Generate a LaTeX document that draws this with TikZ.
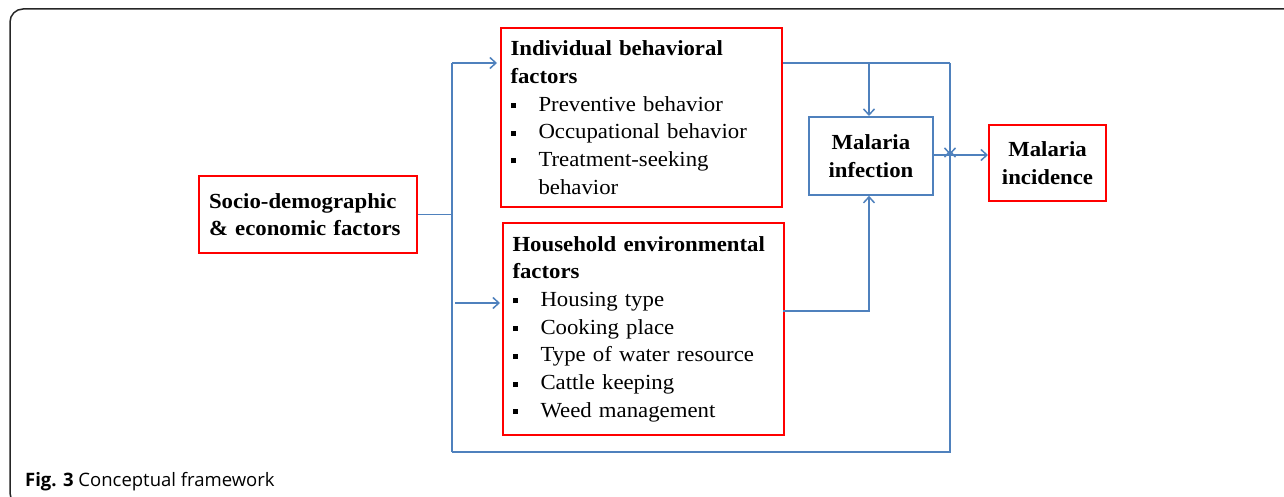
\documentclass[tikz,border=0pt]{standalone}
\usepackage{fontspec}
\setmainfont{Liberation Serif}[FakeStretch=1.06]
\newfontfamily\capfont{Open Sans}
\usetikzlibrary{arrows.meta}
\definecolor{linkblue}{HTML}{4F81BD}
\definecolor{boxred}{HTML}{FF0000}
\newcommand\bul{\makebox[28pt][l]{\rule[3pt]{5pt}{5pt}}}
\tikzset{
  redbox/.style={draw=boxred, line width=2pt, rectangle, anchor=north west, inner sep=0pt, align=left},
  bluebox/.style={draw=linkblue, line width=1.8pt, rectangle, anchor=north west, inner sep=0pt, align=center},
  txt/.style={font=\fontsize{21.5}{27.7}\selectfont},
  link/.style={draw=linkblue, line width=1.8pt},
  arr/.style={link, -{Straight Barb[length=6pt,width=11pt,line width=1.5pt]}},
}
\begin{document}
\begin{tikzpicture}[x=1pt,y=-1pt]
\useasboundingbox (0,0) rectangle (1284,497);
% outer frame
\draw[line width=1.5pt, black!85, rounded corners=13pt] (30,506) -- (10,506) -- (10,9) -- (1300,9);
% boxes
\node[redbox, txt, minimum width=218, minimum height=77, text width=198, align=left] (socio) at (198,175)
  {\textbf{Socio-demographic}\\\textbf{\& economic factors}};
\node[redbox, txt, minimum width=281, minimum height=179, text width=262] (indiv) at (500,27)
  {\textbf{Individual behavioral}\\\textbf{factors}\\\bul Preventive behavior\\\bul Occupational behavior\\\bul Treatment-seeking\\\hspace*{28pt}behavior};
\node[redbox, txt, minimum width=281, minimum height=212, text width=262] (house) at (502,222)
  {\textbf{Household environmental}\\\textbf{factors}\\\bul Housing type\\\bul Cooking place\\\bul Type of water resource\\\bul Cattle keeping\\\bul Weed management};
\node[bluebox, txt, minimum width=124, minimum height=78] (infect) at (808,116)
  {\textbf{Malaria}\\\textbf{infection}};
\node[redbox, txt, minimum width=117, minimum height=76, align=center] (incid) at (988,124)
  {\textbf{Malaria}\\\textbf{incidence}};
% coordinates
\coordinate (spTop) at (452,63);
\coordinate (spBot) at (452,452);
\coordinate (brBot) at (950,452);
\coordinate (brTop) at (950,63);
\coordinate (brMid) at (869,63);
\coordinate (hhIn) at (455,303);
\coordinate (hhOut) at (783,311);
\coordinate (hhCorner) at (869,311);
\coordinate (join) at (950,155);
% connectors
\draw[link] (socio.east) -- (socio.east -| spTop);
\draw[link] (spBot) -- (spTop);
\draw[arr] (spTop) -- ([xshift=-3pt]spTop -| indiv.west);
\draw[arr] (hhIn) -- ([xshift=-2pt]hhIn -| house.west);
\draw[link] (indiv.east |- brTop) -- (brTop);
\draw[arr] (brMid) -- (infect.north -| brMid);
\draw[arr] (brTop) -- (join);
\draw[arr] (spBot) -- (brBot) -- ([yshift=5pt]join);
\draw[arr] (hhOut) -- (hhCorner) -- (infect.south -| hhCorner);
\draw[arr] (infect.east |- join) -- (incid.west |- join);
% caption
\node[anchor=base west, inner sep=0pt, font=\capfont\fontsize{18.5}{22}\selectfont] (cap) at (25,486) {\textbf{Fig. 3} Conceptual framework};
\end{tikzpicture}
\end{document}
